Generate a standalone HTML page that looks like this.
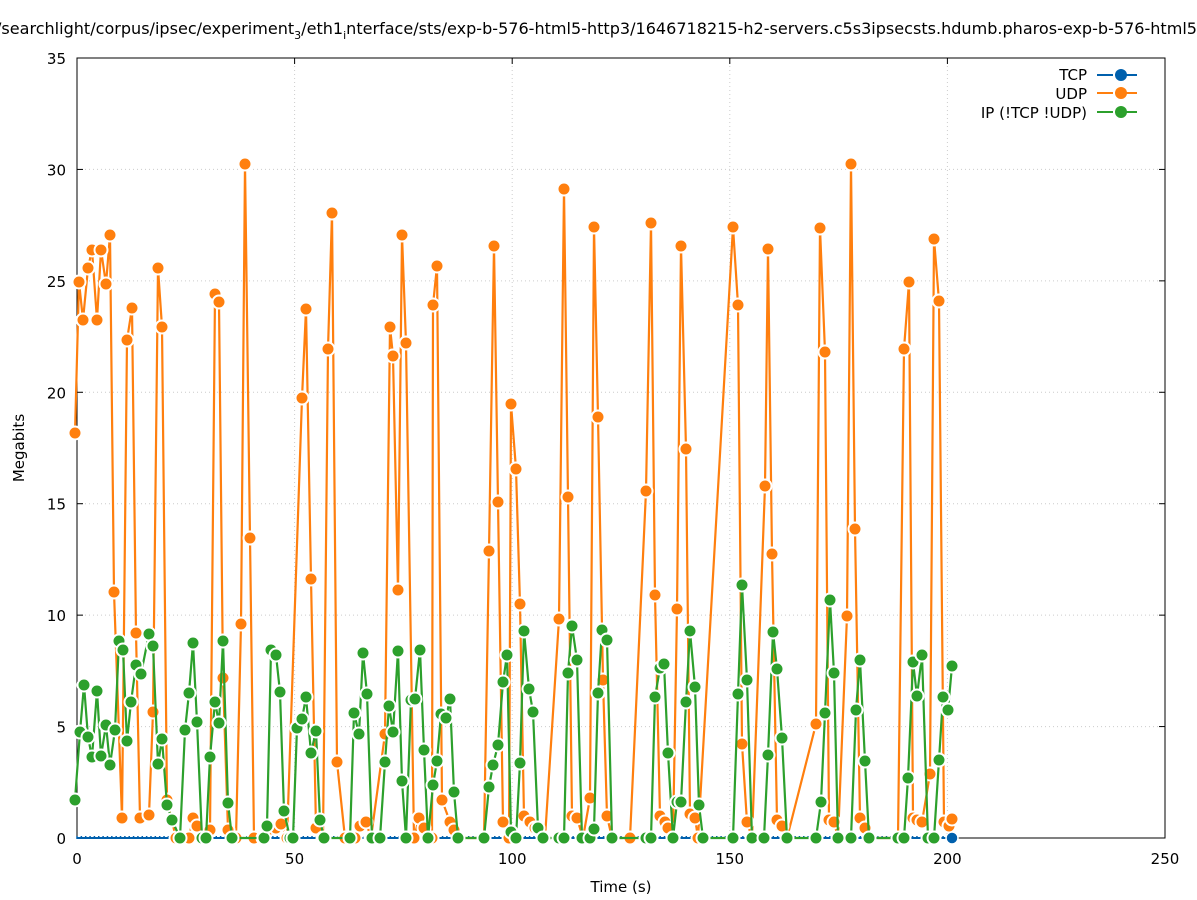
<!DOCTYPE html>
<html><head><meta charset="utf-8"><style>
body{margin:0;background:#fff}
svg{display:block;font-family:"DejaVu Sans","Liberation Sans",sans-serif}
</style></head><body>
<svg id="s" width="1197" height="900" viewBox="0 0 1197 900" xmlns="http://www.w3.org/2000/svg">
<rect width="1197" height="900" fill="#fff"/>
<text x="-4" y="34" font-size="16" textLength="1201" lengthAdjust="spacingAndGlyphs">/searchlight/corpus/ipsec/experiment<tspan font-size="11" dy="5">3</tspan><tspan dy="-5">/eth1</tspan><tspan font-size="11" dy="5">i</tspan><tspan dy="-5">nterface/sts/exp-b-576-html5-http3/1646718215-h2-servers.c5s3ipsecsts.hdumb.pharos-exp-b-576-html5</tspan></text>
<g id="grid" stroke="#ccc" stroke-dasharray="1,3" stroke-width="1"></g>
<g id="axes"></g>
<g id="data"></g>
<text x="24" y="448" font-size="15" transform="rotate(-90 24 448)" text-anchor="middle">Megabits</text>
<text x="621" y="892" font-size="15" text-anchor="middle">Time (s)</text>
<g font-size="15" text-anchor="end">
<text x="1087" y="80">TCP</text>
<text x="1087" y="99">UDP</text>
<text x="1087" y="118">IP (!TCP  !UDP)</text>
<g stroke-width="2">
<line x1="1097" y1="75" x2="1145" y2="75" stroke="#0060ad" stroke-dasharray="16,8"/><circle cx="1121" cy="75" r="6" fill="#0060ad"/>
<line x1="1097" y1="93" x2="1145" y2="93" stroke="#ff7f0e" stroke-dasharray="16,8"/><circle cx="1121" cy="93" r="6" fill="#ff7f0e"/>
<line x1="1097" y1="112" x2="1145" y2="112" stroke="#2ca02c" stroke-dasharray="16,8"/><circle cx="1121" cy="112" r="6" fill="#2ca02c"/>
</g></g>
</svg>
<script>
var NS="http://www.w3.org/2000/svg";
function el(p,t,a,txt){var e=document.createElementNS(NS,t);for(var k in a)e.setAttribute(k,a[k]);if(txt!=null)e.textContent=txt;p.appendChild(e);return e;}
var g=document.getElementById('grid'),ax=document.getElementById('axes'),d=document.getElementById('data');
var X0=77,XS=4.352,Y0=838,YS=22.286;
for(var v=0;v<=35;v+=5){var y=Y0-v*YS;if(v>0)el(g,'line',{x1:X0,y1:y,x2:1165,y2:y});
el(ax,'line',{x1:X0,y1:y,x2:X0+6,y2:y,stroke:'#000'});el(ax,'line',{x1:1165,y1:y,x2:1159,y2:y,stroke:'#000'});
el(ax,'text',{x:66,y:y+6,'font-size':15,'text-anchor':'end'},v);}
for(var v=0;v<=250;v+=50){var x=X0+v*XS;if(v>0&&v<250)el(g,'line',{x1:x,y1:58,x2:x,y2:Y0});
el(ax,'line',{x1:x,y1:Y0,x2:x,y2:Y0-6,stroke:'#000'});el(ax,'line',{x1:x,y1:58,x2:x,y2:64,stroke:'#000'});
el(ax,'text',{x:x,y:864,'font-size':15,'text-anchor':'middle'},v);}
el(ax,'rect',{x:X0,y:58,width:1165-X0,height:Y0-58,fill:'none',stroke:'#000','stroke-width':1});
var O=[[75,433],[79,282],[83,320],[88,268],[92,250],[97,320],[101,250],[106,284],[110,235],[114,592],[122,818],[127,340],[132,308],[136,633],[140,818],[149,815],[153,712],[158,268],[162,327],[167,800],[176,838],[189,838],[193,818],[197,826],[203,838],[210,830],[215,294],[219,302],[223,678],[228,830],[236,838],[241,624],[245,164],[250,538],[254,838],[263,838],[268,830],[276,828],[281,824],[287,838],[302,398],[306,309],[311,579],[316,828],[323,838],[328,349],[332,213],[337,762],[345,838],[355,838],[360,826],[366,822],[371,838],[385,734],[390,327],[393,356],[398,590],[402,235],[406,343],[414,838],[419,818],[424,828],[432,838],[433,305],[437,266],[442,800],[450,822],[454,830],[460,838],[484,838],[489,551],[494,246],[498,502],[503,822],[509,838],[511,404],[516,469],[520,604],[524,816],[530,822],[535,828],[545,838],[559,619],[564,189],[568,497],[572,816],[577,818],[583,838],[590,798],[594,227],[598,417],[603,680],[607,816],[612,838],[630,838],[646,491],[651,223],[655,595],[660,816],[665,822],[668,828],[673,838],[677,609],[681,246],[686,449],[690,814],[695,818],[698,838],[733,227],[738,305],[742,744],[747,822],[752,838],[765,486],[768,249],[772,554],[777,820],[782,826],[787,838],[816,724],[820,228],[825,352],[829,820],[834,822],[838,838],[847,616],[851,164],[855,529],[860,818],[865,828],[870,838],[898,838],[904,349],[909,282],[913,818],[917,820],[922,822],[930,774],[934,239],[939,301],[944,822],[949,826],[952,819]];
var G=[[75,800],[80,732],[84,685],[88,737],[92,757],[97,691],[101,756],[106,725],[110,765],[115,730],[119,641],[123,650],[127,741],[131,702],[136,665],[141,674],[149,634],[153,646],[158,764],[162,739],[167,805],[172,820],[180,838],[185,730],[189,693],[193,643],[197,722],[202,838],[206,838],[210,757],[215,702],[219,723],[223,641],[228,803],[232,838],[264,838],[267,826],[271,650],[276,655],[280,692],[284,811],[290,838],[293,838],[297,728],[302,719],[306,697],[311,753],[316,731],[320,820],[324,838],[350,838],[354,713],[359,734],[363,653],[367,694],[372,838],[380,838],[385,762],[389,706],[393,732],[398,651],[402,781],[406,838],[411,700],[415,699],[420,650],[424,750],[428,838],[433,785],[437,761],[441,714],[446,718],[450,699],[454,792],[458,838],[484,838],[489,787],[493,765],[498,745],[503,682],[507,655],[511,832],[516,838],[520,763],[524,631],[529,689],[533,712],[538,828],[543,838],[559,838],[564,838],[568,673],[572,626],[577,660],[582,838],[590,838],[594,829],[598,693],[602,630],[607,640],[612,838],[646,838],[651,838],[655,697],[660,668],[664,664],[668,753],[673,838],[677,802],[681,802],[686,702],[690,631],[695,687],[699,805],[703,838],[733,838],[738,694],[742,585],[747,680],[752,838],[764,838],[768,755],[773,632],[777,669],[782,738],[787,838],[816,838],[821,802],[825,713],[830,600],[834,673],[838,838],[851,838],[856,710],[860,660],[865,761],[869,838],[898,838],[904,838],[908,778],[913,662],[917,696],[922,655],[928,838],[934,838],[939,760],[943,697],[948,710],[952,666]];
el(d,'line',{x1:X0,y1:Y0,x2:952,y2:Y0,stroke:'#0060ad','stroke-width':2});
for(var i=0;i<=200;i+=1){var x=X0+i*XS;el(d,'line',{x1:x,y1:Y0-2,x2:x,y2:Y0+1,stroke:'#0060ad','stroke-width':1.5});}
function series(P,c){
 el(d,'polyline',{points:P.map(function(p){return p.join(',')}).join(' '),fill:'none',stroke:c,'stroke-width':2.2,'stroke-linejoin':'round'});
 P.forEach(function(p){el(d,'circle',{cx:p[0],cy:p[1],r:6.5,fill:c,stroke:'#fff','stroke-width':2});});
}
series(O,'#ff7f0e');series(G,'#2ca02c');
el(d,'circle',{cx:952,cy:838,r:6,fill:'#0060ad',stroke:'#fff','stroke-width':1.5});
</script>
</body></html>
